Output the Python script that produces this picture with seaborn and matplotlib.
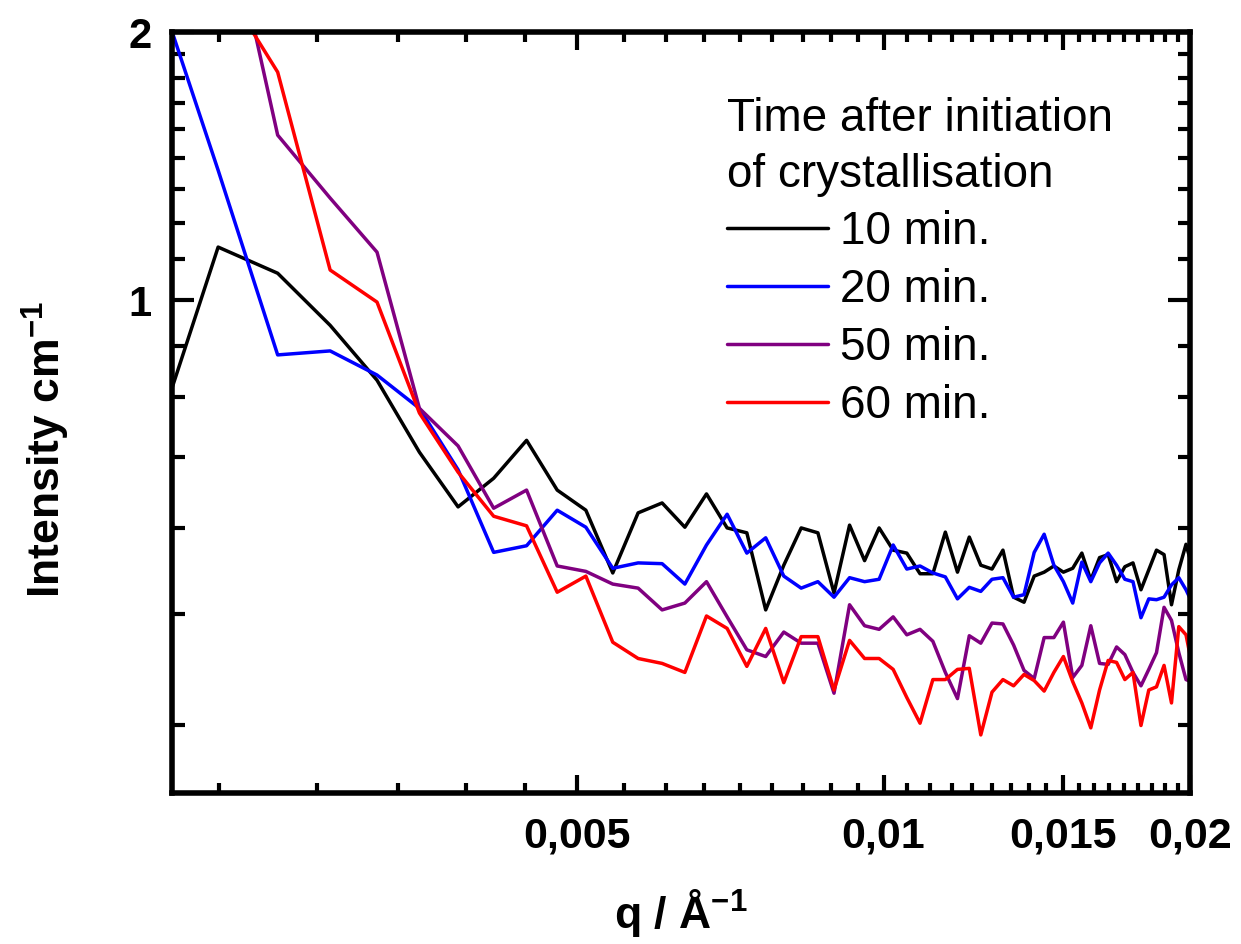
import numpy as np
import pandas as pd
import matplotlib
matplotlib.use("Agg")
import matplotlib.pyplot as plt
import matplotlib.ticker as mticker
import seaborn as sns

# ---------------- data ----------------
q = [0.00190, 0.00222, 0.00254, 0.00286, 0.00318, 0.00350, 0.00382, 0.00414, 0.00446, 0.00478,
     0.00510, 0.00542, 0.00574, 0.00606, 0.00638, 0.00670, 0.00702, 0.00734, 0.00766, 0.00798,
     0.00830, 0.00862, 0.00894, 0.00926, 0.00958, 0.00990, 0.01022, 0.01054, 0.01086, 0.01118,
     0.01150, 0.01182, 0.01214, 0.01246, 0.01278, 0.01310, 0.01342, 0.01374, 0.01406, 0.01438,
     0.01470, 0.01502, 0.01534, 0.01566, 0.01598, 0.01630, 0.01662, 0.01694, 0.01726, 0.01758,
     0.01790, 0.01822, 0.01854, 0.01886, 0.01918, 0.01950, 0.01982, 0.02014]

i_10min = [0.666, 1.147, 1.072, 0.937, 0.813, 0.675, 0.586, 0.631, 0.696, 0.612,
           0.581, 0.494, 0.577, 0.592, 0.556, 0.606, 0.555, 0.548, 0.449, 0.504,
           0.555, 0.548, 0.469, 0.559, 0.510, 0.555, 0.524, 0.520, 0.493, 0.493,
           0.549, 0.495, 0.542, 0.504, 0.499, 0.524, 0.464, 0.458, 0.490, 0.495,
           0.503, 0.495, 0.500, 0.520, 0.485, 0.514, 0.518, 0.483, 0.502, 0.507,
           0.473, 0.498, 0.524, 0.518, 0.455, 0.498, 0.532, 0.498]

i_20min = [2.389, 1.399, 0.868, 0.877, 0.824, 0.756, 0.645, 0.521, 0.530, 0.581,
           0.556, 0.500, 0.507, 0.506, 0.480, 0.531, 0.575, 0.520, 0.541, 0.490,
           0.475, 0.483, 0.464, 0.488, 0.483, 0.486, 0.531, 0.499, 0.503, 0.494,
           0.489, 0.462, 0.476, 0.471, 0.486, 0.488, 0.464, 0.467, 0.521, 0.546,
           0.504, 0.483, 0.457, 0.508, 0.483, 0.507, 0.520, 0.504, 0.486, 0.483,
           0.440, 0.462, 0.461, 0.464, 0.479, 0.488, 0.473, 0.455]

i_50min = [3.400, 3.070, 1.532, 1.302, 1.132, 0.756, 0.686, 0.584, 0.612, 0.503,
           0.496, 0.480, 0.475, 0.449, 0.457, 0.483, 0.441, 0.405, 0.398, 0.424,
           0.412, 0.412, 0.362, 0.455, 0.431, 0.427, 0.441, 0.421, 0.427, 0.414,
           0.382, 0.357, 0.420, 0.412, 0.434, 0.433, 0.410, 0.384, 0.376, 0.418,
           0.418, 0.435, 0.377, 0.389, 0.431, 0.391, 0.390, 0.408, 0.400, 0.382,
           0.369, 0.385, 0.402, 0.452, 0.437, 0.402, 0.375, 0.372]

i_60min = [2.500, 2.310, 1.803, 1.081, 0.995, 0.747, 0.641, 0.572, 0.558, 0.470,
           0.490, 0.413, 0.396, 0.391, 0.382, 0.442, 0.428, 0.388, 0.428, 0.372,
           0.419, 0.419, 0.365, 0.415, 0.396, 0.396, 0.385, 0.358, 0.335, 0.375,
           0.375, 0.385, 0.386, 0.325, 0.363, 0.375, 0.369, 0.380, 0.374, 0.364,
           0.382, 0.398, 0.373, 0.353, 0.331, 0.365, 0.394, 0.392, 0.375, 0.382,
           0.333, 0.365, 0.368, 0.389, 0.353, 0.430, 0.421, 0.384]

series_labels = ["10 min.", "20 min.", "50 min.", "60 min."]
series_colors = ["#000000", "#0000FF", "#800080", "#FF0000"]

x_major = [0.005, 0.01, 0.015, 0.02]
x_major_labels = ["0,005", "0,01", "0,015", "0,02"]
y_major = [1, 2]
y_major_labels = ["1", "2"]

legend_title = "Time after initiation\nof crystallisation"
x_label = r"q / Å$^{\mathbf{-1}}$"
y_label = r"Intensity cm$^{\mathbf{-1}}$"

# ---------------- style ----------------
sns.set_style("ticks")
plt.rcParams["font.family"] = ["Liberation Sans", "DejaVu Sans"]
plt.rcParams["mathtext.fontset"] = "custom"
plt.rcParams["mathtext.rm"] = "Liberation Sans:bold"
plt.rcParams["mathtext.bf"] = "Liberation Sans:bold"
plt.rcParams["mathtext.it"] = "Liberation Sans:bold"
for key in ["text.color", "axes.labelcolor", "xtick.color", "ytick.color",
            "axes.edgecolor", "xtick.labelcolor", "ytick.labelcolor"]:
    plt.rcParams[key] = "black"

frames = []
for lab, vals in zip(series_labels, [i_10min, i_20min, i_50min, i_60min]):
    frames.append(pd.DataFrame({"q": q, "I": vals, "time": lab}))
df = pd.concat(frames, ignore_index=True)

fig = plt.figure(figsize=(12.41, 9.44), dpi=100)
ax = fig.add_axes([172 / 1241, 1 - 793 / 944, (1190 - 172) / 1241, (793 - 32) / 944])
ax.set_xscale("log")
ax.set_yscale("log")

sns.lineplot(data=df, x="q", y="I", hue="time", hue_order=series_labels,
             palette=dict(zip(series_labels, series_colors)),
             estimator=None, sort=False, linewidth=2.5, ax=ax, legend=True)

ax.set_xlim(0.002, 0.02)
ax.set_ylim(0.2797, 2.0)

# ticks
ax.xaxis.set_major_locator(mticker.FixedLocator(x_major))
ax.xaxis.set_major_formatter(mticker.FixedFormatter(x_major_labels))
x_minor = [k * 0.005 / 9 for k in range(4, 36) if k % 9 != 0]
ax.xaxis.set_minor_locator(mticker.FixedLocator(x_minor))
ax.xaxis.set_minor_formatter(mticker.NullFormatter())

ax.yaxis.set_major_locator(mticker.FixedLocator(y_major))
ax.yaxis.set_major_formatter(mticker.FixedFormatter(y_major_labels))
y_minor = [k / 9 for k in range(3, 18) if k % 9 != 0]
ax.yaxis.set_minor_locator(mticker.FixedLocator(y_minor))
ax.yaxis.set_minor_formatter(mticker.NullFormatter())

ax.tick_params(axis="both", which="both", direction="in", top=True, right=True,
               color="black", width=3.0)
ax.tick_params(axis="x", which="major", length=13, pad=17, labelsize=31)
ax.tick_params(axis="x", which="minor", length=7)
ax.tick_params(axis="y", which="major", length=16, pad=15, labelsize=30)
ax.tick_params(axis="y", which="minor", length=9)
for lab in ax.get_xticklabels() + ax.get_yticklabels():
    lab.set_fontweight("bold")
    lab.set_color("black")

for sp in ax.spines.values():
    sp.set_linewidth(4.0)
    sp.set_color("black")

ax.set_xlabel(x_label, fontsize=32, fontweight="bold", color="black")
ax.set_ylabel(y_label, fontsize=32, fontweight="bold", color="black")
ax.xaxis.set_label_coords(0.5, -0.124)
ax.yaxis.set_label_coords(-0.098, 0.451)

handles, labels = ax.get_legend_handles_labels()
leg = ax.legend(handles, labels, title=legend_title, loc="upper left",
                bbox_to_anchor=(0.545, 0.915), frameon=False, fontsize=33,
                title_fontsize=33, alignment="left", borderpad=0,
                borderaxespad=0, handlelength=2.2, handletextpad=0.28,
                labelspacing=0.3)
leg.get_title().set_linespacing(1.35)
leg.get_title().set_color("black")
for t in leg.get_texts():
    t.set_color("black")
for h in leg.get_lines():
    h.set_linewidth(2.5)

fig.savefig("out.png", dpi=100)
